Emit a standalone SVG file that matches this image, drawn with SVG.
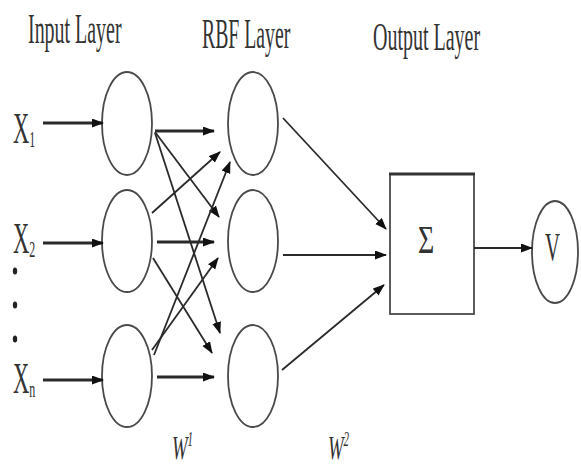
<svg xmlns="http://www.w3.org/2000/svg" width="581" height="468" viewBox="0 0 581 468">
<style>
.node{fill:#fff;stroke:#4a4a4a;stroke-width:1.8}
.lbl{font-family:"Liberation Serif","Times New Roman",serif;fill:#333}
.c{stroke:#2a2a2a;stroke-width:1.8;fill:none;marker-end:url(#ah)}
.t{stroke:#2a2a2a;stroke-width:3.2;fill:none;marker-end:url(#ah)}
</style>
<defs>
<marker id="ah" markerUnits="userSpaceOnUse" markerWidth="12" markerHeight="10" refX="11" refY="4.5" orient="auto" viewBox="0 0 12 10">
<path d="M0,0 L12,4.5 L0,9 z" fill="#111"/>
</marker>
</defs>
<rect width="581" height="468" fill="#fff"/>
<g id="titles">
<text class="lbl" font-size="42" transform="translate(28,43) scale(0.475,1)">Input Layer</text>
<text class="lbl" font-size="42" transform="translate(202,48) scale(0.47,1)">RBF Layer</text>
<text class="lbl" font-size="40" transform="translate(373,50) scale(0.5,1)">Output Layer</text>
</g>
<g id="inputs-labels">
<text class="lbl" font-size="45" transform="translate(13,143) scale(0.5,1)">X<tspan font-size="24" dy="4">1</tspan></text>
<text class="lbl" font-size="45" transform="translate(13,253) scale(0.5,1)">X<tspan font-size="24" dy="4">2</tspan></text>
<text class="lbl" font-size="45" transform="translate(13,393) scale(0.5,1)">X<tspan font-size="24" dy="4">n</tspan></text>
<ellipse cx="15" cy="271" rx="2.2" ry="3.5" fill="#222"/>
<ellipse cx="15" cy="305" rx="2.2" ry="3.5" fill="#222"/>
<ellipse cx="15" cy="339" rx="2.2" ry="3.5" fill="#222"/>
</g>
<g id="input1"><ellipse class="node" cx="127" cy="123.5" rx="25" ry="51.5"/></g>
<g id="input2"><ellipse class="node" cx="127" cy="241" rx="25" ry="51"/></g>
<g id="input3"><ellipse class="node" cx="127" cy="376" rx="25" ry="51"/></g>
<g id="rbf1"><ellipse class="node" cx="253" cy="123.5" rx="25" ry="51.5"/></g>
<g id="rbf2"><ellipse class="node" cx="253" cy="241" rx="25" ry="51"/></g>
<g id="rbf3"><ellipse class="node" cx="253" cy="376" rx="25" ry="51"/></g>
<g id="sum">
<rect class="node" x="390" y="174" width="84" height="140"/>
<line x1="389" y1="174" x2="475" y2="174" stroke="#333" stroke-width="3"/>
<text class="lbl" font-size="40" transform="translate(418,253) scale(0.7,1)">Σ</text>
</g>
<g id="output">
<ellipse class="node" cx="555" cy="252" rx="23" ry="51"/>
<text class="lbl" font-size="40" transform="translate(545,260) scale(0.52,1)">V</text>
</g>
<g id="weights">
<text class="lbl" font-size="34" font-style="italic" transform="translate(172,459) scale(0.55,1)">W<tspan font-size="20" dy="-13">1</tspan></text>
<text class="lbl" font-size="34" font-style="italic" transform="translate(328,459) scale(0.55,1)">W<tspan font-size="20" dy="-13">2</tspan></text>
</g>
<g id="connectors">
<line class="t" x1="43" y1="123" x2="103" y2="123"/>
<line class="t" x1="43" y1="243" x2="103" y2="243"/>
<line class="t" x1="43" y1="380" x2="103" y2="380"/>
<line class="t" x1="155" y1="131" x2="214" y2="131"/>
<line class="c" x1="155" y1="132" x2="219" y2="217"/>
<line class="c" x1="155" y1="133" x2="220" y2="333"/>
<line class="c" x1="152" y1="213" x2="220" y2="152"/>
<line class="t" x1="157" y1="242" x2="214" y2="242"/>
<line class="c" x1="153" y1="258" x2="212" y2="353"/>
<line class="c" x1="154" y1="355" x2="230" y2="162"/>
<line class="c" x1="152" y1="350" x2="218" y2="258"/>
<line class="t" x1="157" y1="377" x2="214" y2="377"/>
<line class="c" x1="283" y1="118" x2="386" y2="229"/>
<line class="c" x1="283" y1="255" x2="386" y2="255"/>
<line class="c" x1="282" y1="370" x2="384" y2="285"/>
<line class="c" x1="474" y1="248" x2="532" y2="248"/>
</g>
</svg>
